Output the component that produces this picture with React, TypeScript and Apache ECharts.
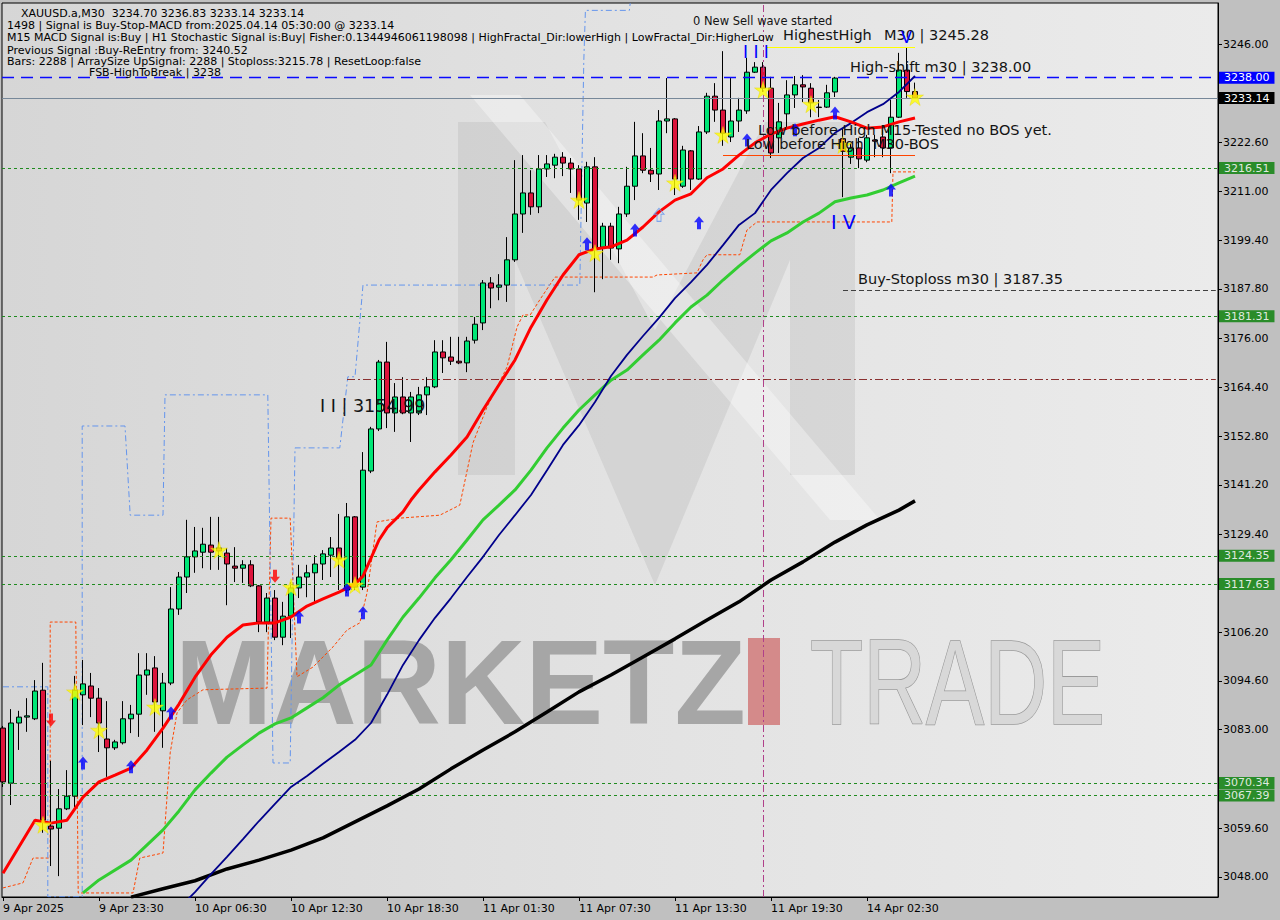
import React, { useEffect, useRef } from 'react';
import * as echarts from 'echarts';

// ---------- DATA ----------
// candles: [open, close, low, high], index = bar number (M30)
const candles: number[][] = [
  [3083.4, 3070.6, 3069.4, 3083.9], [3070.3, 3084.6, 3065.1, 3087.9], [3084.6, 3086.0, 3078.2, 3087.5],
  [3086.0, 3086.3, 3082.5, 3090.5], [3085.6, 3092.2, 3085.3, 3094.8], [3092.4, 3061.5, 3058.5, 3098.9],
  [3060.1, 3059.4, 3050.6, 3075.6], [3059.6, 3064.2, 3048.2, 3068.9], [3064.2, 3067.2, 3063.9, 3073.4],
  [3067.2, 3092.4, 3064.6, 3095.8], [3091.3, 3093.9, 3084.1, 3099.6], [3093.4, 3090.5, 3086.0, 3096.5],
  [3090.5, 3084.6, 3077.7, 3092.9], [3080.8, 3078.7, 3071.8, 3089.8], [3078.7, 3080.1, 3078.2, 3080.6],
  [3079.9, 3085.6, 3079.5, 3089.8], [3085.6, 3086.7, 3082.2, 3088.9], [3086.7, 3096.0, 3081.3, 3101.2],
  [3096.0, 3097.2, 3091.3, 3101.2], [3097.7, 3089.6, 3082.5, 3100.5], [3087.5, 3094.1, 3078.7, 3096.5],
  [3094.1, 3111.7, 3093.6, 3116.9], [3111.7, 3119.3, 3110.3, 3120.5], [3119.3, 3124.1, 3115.5, 3132.9],
  [3124.1, 3125.5, 3120.3, 3131.2], [3125.2, 3127.1, 3121.4, 3131.0], [3126.9, 3125.2, 3121.0, 3133.6],
  [3126.2, 3125.5, 3121.0, 3133.6], [3125.0, 3122.4, 3112.6, 3126.2], [3121.9, 3121.4, 3118.1, 3126.4],
  [3121.4, 3122.2, 3117.9, 3123.3], [3122.2, 3117.2, 3116.9, 3123.3], [3117.2, 3108.6, 3106.2, 3117.4],
  [3108.6, 3114.3, 3106.2, 3115.5], [3114.3, 3105.0, 3104.3, 3116.2], [3105.0, 3110.0, 3103.1, 3113.4],
  [3110.0, 3116.7, 3104.8, 3118.1], [3116.7, 3119.3, 3114.3, 3122.2], [3119.3, 3120.3, 3114.5, 3122.2],
  [3120.3, 3122.4, 3113.4, 3124.5], [3122.4, 3124.8, 3118.6, 3125.7], [3124.5, 3126.2, 3119.3, 3128.8],
  [3126.2, 3123.6, 3116.2, 3134.3], [3116.2, 3133.6, 3115.5, 3136.9], [3133.6, 3116.9, 3116.2, 3133.8],
  [3116.9, 3144.7, 3116.2, 3149.0], [3144.5, 3154.5, 3144.0, 3155.0], [3154.5, 3170.4, 3154.0, 3170.9],
  [3170.4, 3158.3, 3154.7, 3175.2], [3158.3, 3162.1, 3153.8, 3165.4], [3162.1, 3158.3, 3158.0, 3166.8],
  [3158.3, 3162.1, 3151.4, 3163.3], [3158.3, 3162.6, 3157.8, 3164.5], [3162.6, 3164.5, 3157.8, 3166.8],
  [3164.5, 3172.8, 3164.2, 3175.6], [3172.8, 3171.4, 3167.8, 3175.6], [3171.6, 3170.6, 3169.7, 3176.4],
  [3170.6, 3170.2, 3169.9, 3176.4], [3170.2, 3175.4, 3168.0, 3176.4], [3175.6, 3179.4, 3174.8, 3181.1],
  [3179.7, 3189.2, 3178.0, 3189.9], [3189.2, 3188.0, 3183.2, 3190.6], [3188.2, 3188.7, 3185.1, 3191.3],
  [3188.7, 3194.7, 3184.7, 3200.1], [3194.7, 3205.6, 3194.2, 3218.4], [3205.6, 3210.6, 3201.1, 3219.6],
  [3210.6, 3207.3, 3205.4, 3216.0], [3207.3, 3216.3, 3205.8, 3219.6], [3216.3, 3217.5, 3214.4, 3219.6],
  [3217.2, 3219.1, 3214.1, 3219.9], [3219.1, 3217.7, 3214.6, 3220.3], [3217.7, 3216.3, 3210.6, 3218.9],
  [3216.3, 3208.9, 3204.2, 3217.2], [3208.2, 3216.8, 3203.7, 3218.0], [3216.8, 3197.3, 3187.0, 3219.1],
  [3197.7, 3202.7, 3190.1, 3203.5], [3202.7, 3197.5, 3194.7, 3203.5], [3197.3, 3205.6, 3193.9, 3207.3],
  [3205.6, 3212.2, 3204.9, 3216.8], [3212.2, 3219.4, 3208.9, 3227.5], [3219.4, 3216.0, 3215.3, 3224.8],
  [3216.0, 3215.1, 3213.2, 3221.3], [3215.1, 3227.7, 3211.3, 3230.3], [3227.7, 3228.2, 3224.8, 3237.9],
  [3228.2, 3213.9, 3210.1, 3228.4], [3212.2, 3220.8, 3211.8, 3221.8], [3220.6, 3213.9, 3211.3, 3220.8],
  [3213.9, 3225.1, 3213.7, 3226.5], [3225.1, 3233.6, 3224.6, 3234.4], [3233.6, 3230.3, 3227.5, 3236.7],
  [3230.3, 3224.8, 3221.8, 3244.3], [3223.9, 3227.7, 3222.7, 3237.9], [3227.7, 3230.3, 3225.1, 3233.2],
  [3230.1, 3239.3, 3229.4, 3242.7], [3239.3, 3240.5, 3239.1, 3241.7], [3240.5, 3235.5, 3234.6, 3241.7],
  [3235.5, 3220.1, 3218.9, 3238.2], [3223.7, 3227.5, 3220.1, 3232.0], [3229.4, 3233.9, 3225.6, 3237.4],
  [3233.9, 3236.3, 3230.8, 3238.4], [3236.3, 3235.8, 3232.2, 3238.6], [3235.5, 3232.0, 3228.6, 3236.7],
  [3231.0, 3230.9, 3228.6, 3232.7], [3231.0, 3234.4, 3230.8, 3236.3], [3234.6, 3237.9, 3233.4, 3238.2],
  [3223.5, 3220.5, 3209.6, 3226.0], [3219.1, 3221.3, 3217.5, 3222.5], [3221.3, 3218.7, 3216.5, 3223.7],
  [3218.4, 3223.7, 3217.9, 3224.4], [3223.2, 3222.9, 3219.1, 3224.4], [3223.9, 3221.3, 3219.1, 3225.6],
  [3221.3, 3228.6, 3215.3, 3232.7], [3228.6, 3239.8, 3228.4, 3243.9], [3239.8, 3234.7, 3233.2, 3245.28],
  [3234.7, 3233.14, 3233.14, 3236.83],
];

// moving averages: [bar index, price]
const redMA: number[][] = [
  [0, 3048.9], [4, 3061.5], [6, 3060.8], [8, 3061.5], [10, 3067.0], [12, 3070.6], [14, 3072.2], [16, 3073.9],
  [18, 3078.2], [20, 3083.4], [22, 3089.1], [24, 3095.5], [26, 3100.8], [28, 3105.0], [30, 3107.9], [32, 3108.4],
  [34, 3108.4], [36, 3109.8], [38, 3112.4], [40, 3114.1], [42, 3115.7], [44, 3117.6], [45, 3119.5], [46, 3123.8],
  [47, 3128.1], [48, 3131.0], [50, 3134.8], [51, 3137.6], [52, 3140.0], [54, 3144.3], [56, 3148.3], [58, 3152.6],
  [60, 3159.0], [62, 3165.0], [64, 3170.9], [66, 3178.7], [68, 3185.2], [70, 3191.1], [72, 3195.9], [74, 3197.3],
  [76, 3197.8], [78, 3199.4], [80, 3202.5], [82, 3206.1], [84, 3208.9], [86, 3210.4], [88, 3214.2], [90, 3216.3],
  [92, 3219.6], [94, 3222.5], [96, 3224.6], [98, 3226.0], [100, 3227.0], [102, 3227.9], [104, 3228.7], [106, 3227.5],
  [108, 3226.0], [110, 3226.3], [112, 3227.5], [114, 3228.4],
];
const greenMA: number[][] = [
  [10, 3044.2], [12, 3047.3], [16, 3052.0], [20, 3059.2], [22, 3063.7], [24, 3068.7], [26, 3072.7], [28, 3076.5],
  [30, 3079.4], [32, 3082.2], [34, 3084.4], [36, 3085.8], [38, 3088.2], [40, 3090.6], [42, 3093.6], [44, 3096.0],
  [46, 3098.4], [48, 3104.3], [50, 3109.8], [52, 3114.3], [54, 3119.1], [56, 3123.4], [58, 3128.1], [60, 3132.9],
  [62, 3136.4], [64, 3140.0], [66, 3144.7], [68, 3150.0], [70, 3154.7], [72, 3159.0], [74, 3162.6], [76, 3166.1],
  [78, 3168.5], [80, 3172.1], [82, 3175.6], [84, 3179.7], [86, 3183.5], [88, 3186.3], [90, 3189.9], [92, 3193.2],
  [94, 3196.3], [96, 3199.2], [98, 3201.1], [100, 3203.7], [102, 3205.8], [104, 3208.5], [106, 3209.4], [108, 3210.1],
  [110, 3211.3], [112, 3213.0], [114, 3214.6],
];
const navyMA: number[][] = [
  [23, 3042.5], [24, 3044.4], [26, 3048.7], [28, 3052.8], [30, 3057.0], [32, 3061.3], [34, 3065.4], [36, 3069.4],
  [38, 3072.0], [40, 3074.9], [42, 3077.7], [44, 3080.6], [46, 3084.6], [48, 3091.3], [50, 3098.4], [52, 3104.3],
  [54, 3109.6], [56, 3114.3], [58, 3119.3], [60, 3124.1], [62, 3129.3], [64, 3134.0], [66, 3138.8], [68, 3144.7],
  [70, 3150.7], [72, 3155.4], [74, 3160.9], [76, 3167.1], [78, 3172.1], [80, 3176.6], [82, 3180.9], [84, 3185.6],
  [86, 3189.4], [88, 3193.5], [90, 3198.2], [92, 3203.0], [94, 3205.8], [96, 3211.3], [98, 3215.3], [100, 3218.9],
  [102, 3221.3], [104, 3224.9], [106, 3227.2], [108, 3229.8], [110, 3231.7], [112, 3234.6], [114, 3238.4],
];
const blackMA: number[][] = [
  [16, 3043.2], [20, 3045.2], [24, 3047.1], [28, 3049.9], [32, 3052.0], [36, 3054.4], [40, 3057.3], [44, 3061.1],
  [48, 3064.9], [52, 3068.9], [56, 3073.7], [60, 3078.2], [64, 3082.5], [68, 3087.2], [72, 3092.0], [76, 3096.0],
  [80, 3100.3], [84, 3104.6], [88, 3109.1], [92, 3113.4], [96, 3118.6], [100, 3122.9], [104, 3127.6], [108, 3131.7],
  [112, 3135.2], [114, 3137.4],
];
// stepped channel lines
const orangeStops: number[][] = [
  [0, 3045.4], [2.5, 3046.6], [3.75, 3052.5], [5.9, 3052.5], [5.9, 3108.6], [9.1, 3108.6], [9.4, 3044.2],
  [16.25, 3044.2], [17.1, 3052.5], [20, 3053.7], [20.9, 3077.5], [21.75, 3087.0], [23, 3090.1], [25, 3092.5],
  [33, 3092.9], [33.5, 3133.3], [35.9, 3133.3], [36.75, 3095.6], [38.75, 3097.9], [41.25, 3102.7], [43, 3106.7],
  [44.6, 3108.4], [45.5, 3115.5], [46.75, 3132.4], [49.6, 3133.3], [54.6, 3134.0], [57.1, 3136.4], [58.75, 3151.2],
  [60.5, 3159.7], [63, 3169.2], [64.25, 3178.7], [65, 3181.6], [65.9, 3181.6], [67.1, 3185.2], [69, 3190.6],
  [81.25, 3190.6], [81.75, 3191.1], [86.75, 3191.6], [87.5, 3194.7], [88, 3195.9], [92.1, 3195.9], [93, 3201.8],
  [94.25, 3203.7], [111.1, 3203.7], [111.25, 3215.6], [114, 3215.6],
];
const blueStops: number[][] = [
  [0, 3093.2], [5.6, 3093.2], [5.6, 3043.3], [9.9, 3043.3], [9.9, 3155.2], [15.25, 3155.2], [15.9, 3134.0],
  [20, 3134.0], [20.25, 3162.6], [33.1, 3162.6], [33.75, 3075.1], [35.9, 3075.1], [36.5, 3150.0], [42.1, 3150.0],
  [43.1, 3166.9], [44, 3166.9], [45, 3188.7], [72.1, 3188.7], [72.6, 3242.0], [72.8, 3254.0], [78.3, 3254.0],
  [78.4, 3255.7],
];
// signals: [bar index, price]
const stars: number[][] = [
  [5, 3060.4], [9, 3092.0], [12, 3082.9], [19, 3088.4], [27, 3125.7], [36, 3116.9], [42, 3123.4], [44, 3117.4],
  [72, 3208.9], [74, 3196.3], [84, 3213.0], [90, 3224.4], [95, 3235.1], [101, 3231.7], [105, 3222.0], [114, 3233.4],
];
const buyArrows: number[][] = [
  [10, 3075.1], [16, 3074.2], [21, 3087.0], [37, 3109.8], [43, 3116.2], [45, 3110.8], [73, 3198.5], [79, 3201.8],
  [87, 3203.5], [93, 3223.2], [99, 3225.6], [104, 3229.6], [111, 3211.3],
];
const hollowArrows: number[][] = [[82, 3205.4]];
const sellArrows: number[][] = [[6, 3085.3], [34, 3119.5]];

// levels
const greenLevels = [3216.51, 3181.31, 3124.35, 3117.63, 3070.34, 3067.39];
const highShift = 3238.0;
const bidPrice = 3233.14;
const buyStoploss = 3187.35;
const midLevel = 3166.3;
const highestHigh = 3245.28;
const lowBeforeHigh = 3219.6;
const waveBar = 95;

// axes
const xTickIdx = [0, 12, 24, 36, 48, 60, 72, 84, 96, 108];
const xTickLabels = ['9 Apr 2025', '9 Apr 23:30', '10 Apr 06:30', '10 Apr 12:30', '10 Apr 18:30', '11 Apr 01:30',
  '11 Apr 07:30', '11 Apr 13:30', '11 Apr 19:30', '14 Apr 02:30'];
// ticks whose labels are not hidden behind the price boxes
const yTicks = [3246.0, 3222.6, 3211.0, 3199.4, 3187.8, 3176.0, 3164.4, 3152.8, 3141.2, 3129.4,
  3106.2, 3094.6, 3083.0, 3059.6, 3048.0];
const yTickMarks = [3246.0, 3234.4, 3222.6, 3211.0, 3199.4, 3187.8, 3176.0, 3164.4, 3152.8, 3141.2, 3129.4, 3117.8,
  3106.2, 3094.6, 3083.0, 3071.4, 3059.6, 3048.0];

const infoLines = [
  'XAUUSD.a,M30  3234.70 3236.83 3233.14 3233.14',
  '1498 | Signal is Buy-Stop-MACD from:2025.04.14 05:30:00 @ 3233.14',
  'M15 MACD Signal is:Buy | H1 Stochastic Signal is:Buy| Fisher:0.1344946061198098 | HighFractal_Dir:lowerHigh | LowFractal_Dir:HigherLow',
  'Previous Signal :Buy-ReEntry from: 3240.52',
  'Bars: 2288 | ArraySize UpSignal: 2288 | Stoploss:3215.78 | ResetLoop:false',
  'FSB-HighToBreak | 3238',
];

const FONT = '"DejaVu Sans", Verdana, sans-serif';
const STAR = 'path://M50,0 L61,35 L98,35 L68,57 L79,91 L50,70 L21,91 L32,57 L2,35 L39,35 Z';
const UP = 'path://M5,0 L10,5.5 L7,5.5 L7,12 L3,12 L3,5.5 L0,5.5 Z';
const DOWN = 'path://M3,0 L7,0 L7,6.5 L10,6.5 L5,12 L0,6.5 L3,6.5 Z';

function boxLabel(text: string, bg: string, fg: string) {
  return {
    show: true, position: 'end', formatter: text, distance: 1,
    backgroundColor: bg, color: fg, fontFamily: FONT, fontSize: 11, lineHeight: 12, padding: [0, 5, 0, 5],
  };
}

export default function App() {
  const ref = useRef<HTMLDivElement>(null);
  useEffect(() => {
    if (!ref.current) return;
    const chart = echarts.init(ref.current, undefined, { renderer: 'svg' });
    const xLabelMap: Record<number, string> = {};
    xTickIdx.forEach((v, i) => { xLabelMap[v] = xTickLabels[i]; });

    const annText = (text: string, x: number, y: number, size: number, fill = '#141414') => ({
      type: 'text', x, y, z: 100, silent: true,
      style: { text, fill, font: `${size}px ${FONT}`, verticalAlign: 'middle', align: 'left' },
    });

    const graphics: any[] = [
      // big M logo watermark
      {
        type: 'polygon', z: 1, silent: true,
        shape: { points: [[458, 122], [545, 122], [655, 330], [765, 122], [855, 122], [855, 475], [790, 475], [790, 260], [655, 585], [515, 260], [515, 475], [458, 475]] },
        style: { fill: 'rgba(90,90,90,0.1)' },
      },
      {
        type: 'polygon', z: 1, silent: true,
        shape: { points: [[470, 95], [520, 95], [880, 520], [830, 520]] },
        style: { fill: 'rgba(255,255,255,0.35)' },
      },
      {
        type: 'text', x: 175, y: 682, z: 1, scaleX: 0.965, silent: true,
        style: { text: 'MARKETZ', fill: '#a6a6a6', font: `bold 121px "Liberation Sans", Arial, sans-serif`, verticalAlign: 'middle' },
      },
      { type: 'rect', z: 1, silent: true, shape: { x: 748, y: 638, width: 32, height: 87 }, style: { fill: '#d48a8a' } },
      {
        type: 'text', x: 810, y: 682, z: 1, scaleX: 0.72, silent: true,
        style: { text: 'TRADE', fill: '#d8d8d8', stroke: '#9a9a9a', lineWidth: 1.6, font: `121px "Liberation Sans", Arial, sans-serif`, verticalAlign: 'middle' },
      },
      // info panel
      annText(infoLines[0], 21, 13, 11, '#000'),
      annText(infoLines[1], 7, 25, 11, '#000'),
      annText(infoLines[2], 7, 37.5, 11, '#000'),
      annText(infoLines[3], 7, 50, 11, '#000'),
      annText(infoLines[4], 7, 61.5, 11, '#000'),
      annText(infoLines[5], 89, 72, 11, '#000'),
      // annotations
      annText('0 New Sell wave started', 693, 21, 11.5),
      annText('HighestHigh', 783, 35, 14.5),
      annText('M30 | 3245.28', 884, 35, 14.5),
      annText('High-shift m30 | 3238.00', 850, 66.5, 14.5),
      annText('Low before High M15-Tested no BOS yet.', 758, 129.5, 14.5),
      annText('Low before High  M30-BOS', 746, 143.5, 14.5),
      annText('Buy-Stoploss m30 | 3187.35', 858, 279, 14.5),
      annText('I I | 3154.99', 320, 406, 17.5),
      annText('I I I', 743, 52, 17, '#0000ff'),
      annText('I V', 831, 222, 19, '#0000ff'),
      annText('V', 901, 37, 16, '#0000ff'),
    ];

    const option: any = {
      animation: false,
      grid: {
        left: 2, right: 62, top: 3, bottom: 23, show: true, borderColor: '#000', borderWidth: 1,
        backgroundColor: new echarts.graphic.LinearGradient(0, 0, 1, 0, [
          { offset: 0, color: '#d6d6d6' }, { offset: 0.5, color: '#e2e2e2' }, { offset: 1, color: '#ebebeb' },
        ]),
      },
      xAxis: {
        type: 'value', min: -0.125, max: 151.875,
        axisLine: { show: true, onZero: false, lineStyle: { color: '#000' } },
        axisTick: { show: true, customValues: xTickIdx, length: 4, lineStyle: { color: '#000' } },
        axisLabel: {
          customValues: xTickIdx, formatter: (v: number) => xLabelMap[v] ?? '', align: 'left',
          color: '#000', fontFamily: FONT, fontSize: 11, margin: 6,
        },
        splitLine: { show: false },
      },
      yAxis: {
        type: 'value', position: 'right', min: 3043.24, max: 3255.75, scale: true,
        axisLine: { show: true, onZero: false, lineStyle: { color: '#000' } },
        axisTick: { show: true, customValues: yTickMarks, length: 4, lineStyle: { color: '#000' } },
        axisLabel: {
          customValues: yTicks, formatter: (v: number) => v.toFixed(2),
          color: '#000', fontFamily: FONT, fontSize: 11, margin: 5,
        },
        splitLine: { show: false },
      },
      graphic: { elements: graphics },
      series: [
        {
          type: 'line', name: 'levels', data: [], z: 2, silent: true,
          markLine: {
            silent: true, symbol: ['none', 'none'], animation: false,
            data: [
              { yAxis: highShift, lineStyle: { color: '#0a0aff', type: [12, 7], width: 1.3 }, label: boxLabel(highShift.toFixed(2), '#0000ff', '#ffffff') },
              { yAxis: bidPrice, lineStyle: { color: '#778899', type: 'solid', width: 1 }, label: boxLabel(bidPrice.toFixed(2), '#000000', '#ffffff') },
              ...greenLevels.map((v) => ({
                yAxis: v, lineStyle: { color: '#1f8a1f', type: [3, 3], width: 1 }, label: boxLabel(v.toFixed(2), '#2a8c2a', '#dfe9df'),
              })),
              [{ coord: [105, buyStoploss], lineStyle: { color: '#404040', type: [5, 3], width: 1 }, label: { show: false } }, { coord: [151.6, buyStoploss] }],
              [{ coord: [43, midLevel], lineStyle: { color: '#8a3030', type: [8, 3, 2, 3], width: 1 }, label: { show: false } }, { coord: [151.6, midLevel] }],
              [{ coord: [95.5, highestHigh], lineStyle: { color: '#ffff00', type: 'solid', width: 1 }, label: { show: false } }, { coord: [114, highestHigh] }],
              [{ coord: [90, lowBeforeHigh], lineStyle: { color: '#ff4500', type: 'solid', width: 1 }, label: { show: false } }, { coord: [114, lowBeforeHigh] }],
              { xAxis: waveBar, lineStyle: { color: '#b0408a', type: [7, 3, 2, 3], width: 1 }, label: { show: false } },
            ],
          },
        },
        {
          type: 'line', name: 'orange', data: orangeStops, z: 3, showSymbol: false, silent: true,
          lineStyle: { color: '#ff4500', width: 1, type: [3, 2] },
        },
        {
          type: 'line', name: 'lightblue', data: blueStops, z: 3, showSymbol: false, silent: true,
          lineStyle: { color: '#6495ed', width: 1, type: [6, 3, 2, 3] },
        },
        {
          type: 'candlestick', name: 'XAUUSD', z: 4, barWidth: 5,
          data: candles.map((c, i) => [i, c[0], c[1], c[2], c[3]]),
          encode: { x: 0, y: [1, 2, 3, 4] },
          itemStyle: { color: '#00e676', color0: '#dc143c', borderColor: '#000', borderColor0: '#000', borderWidth: 1 },
        },
        { type: 'line', name: 'black', data: blackMA, z: 5, showSymbol: false, silent: true, lineStyle: { color: '#000', width: 3.5 } },
        { type: 'line', name: 'green', data: greenMA, z: 5, showSymbol: false, silent: true, lineStyle: { color: '#32cd32', width: 3 } },
        { type: 'line', name: 'navy', data: navyMA, z: 5, showSymbol: false, silent: true, lineStyle: { color: '#00008b', width: 1.8 } },
        { type: 'line', name: 'red', data: redMA, z: 5, showSymbol: false, silent: true, lineStyle: { color: '#ff0000', width: 3 } },
        {
          type: 'scatter', name: 'stars', data: stars, z: 6, symbol: STAR, symbolSize: 17, silent: true,
          itemStyle: { color: '#ffff00', borderColor: '#e6d200', borderWidth: 0.5 },
        },
        {
          type: 'scatter', name: 'buy', data: buyArrows, z: 6, symbol: UP, symbolSize: [10, 13], silent: true,
          itemStyle: { color: '#0000ff' },
        },
        {
          type: 'scatter', name: 'buyHollow', data: hollowArrows, z: 6, symbol: UP, symbolSize: [10, 13], silent: true,
          itemStyle: { color: 'rgba(0,0,0,0)', borderColor: '#6495ed', borderWidth: 1 },
        },
        {
          type: 'scatter', name: 'sell', data: sellArrows, z: 6, symbol: DOWN, symbolSize: [10, 13], silent: true,
          itemStyle: { color: '#ff0000' },
        },
      ],
    };
    chart.setOption(option);
    return () => chart.dispose();
  }, []);

  return (
    <div style={{ position: 'absolute', left: 0, top: 0, width: 1280, height: 920, background: '#c0c0c0' }}>
      <div ref={ref} style={{ width: 1280, height: 920 }} />
    </div>
  );
}
